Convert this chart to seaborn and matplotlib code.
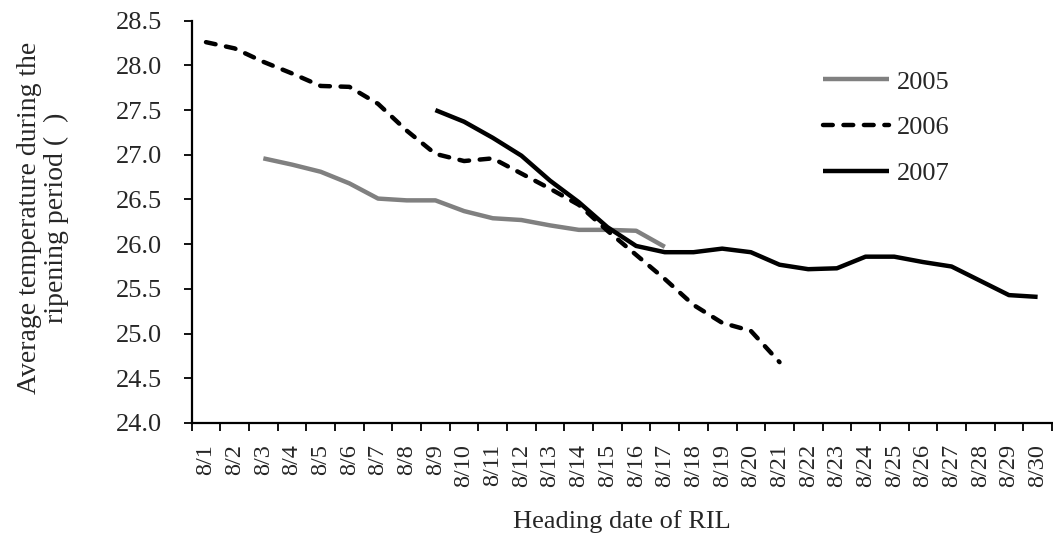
import numpy as np
import pandas as pd
import matplotlib
matplotlib.use("Agg")
import matplotlib.pyplot as plt
import seaborn as sns

# Heading dates (August 1-30)
dates = [f"8/{d}" for d in range(1, 31)]

# Average temperature during ripening, by heading date
temp_2005 = [None, None, 26.96, 26.89, 26.81, 26.68, 26.51, 26.49, 26.49, 26.37,
             26.29, 26.27, 26.21, 26.16, 26.16, 26.15, 25.97] + [None] * 13
temp_2006 = [28.26, 28.19, 28.04, 27.91, 27.77, 27.76, 27.57, 27.27, 27.01, 26.93,
             26.96, 26.79, 26.62, 26.44, 26.15, 25.88, 25.61, 25.32, 25.12, 25.03,
             24.68] + [None] * 9
temp_2007 = [None] * 8 + [27.50, 27.37, 27.19, 26.99, 26.71, 26.47, 26.19, 25.98,
                          25.91, 25.91, 25.95, 25.91, 25.77, 25.72, 25.73, 25.86,
                          25.86, 25.80, 25.75, 25.59, 25.43, 25.41]

years = ["2005", "2006", "2007"]
series = {"2005": temp_2005, "2006": temp_2006, "2007": temp_2007}

rows = []
for yr in years:
    for i, v in enumerate(series[yr]):
        if v is not None:
            rows.append({"pos": i, "date": dates[i], "temp": v, "year": yr})
df = pd.DataFrame(rows)

sns.set_style("white")
plt.rcParams["font.family"] = ["Liberation Serif", "DejaVu Serif"]

fig = plt.figure(figsize=(10.53, 5.45), dpi=100)
ax = fig.add_axes([0.182, 0.224, 0.817, 0.738])

styles = {
    "2005": dict(color="#808080", linestyle="-"),
    "2006": dict(color="black", linestyle=(0, (2.2, 2.4))),
    "2007": dict(color="black", linestyle="-"),
}
for yr in years:
    sub = df[df["year"] == yr]
    sns.lineplot(data=sub, x="pos", y="temp", ax=ax, label=yr, lw=3.2,
                 color=styles[yr]["color"], linestyle=styles[yr]["linestyle"],
                 dash_capstyle="round", solid_capstyle="butt")

ax.set_xlim(-0.5, 29.5)
ax.set_ylim(24.0, 28.5)
yt = np.arange(24.0, 28.51, 0.5)
ax.set_yticks(yt)
ax.set_yticklabels([f"{v:.1f}" for v in yt], fontsize=19)
ax.set_xticks(range(30))
ax.set_xticklabels(dates, rotation=90, fontsize=17.5)
ax.set_xticks(np.arange(-0.5, 30.0, 1.0), minor=True)
ax.tick_params(axis="x", which="major", bottom=True, length=0, pad=15)
ax.tick_params(axis="x", which="minor", bottom=True, length=6, width=1.3,
               color="black", direction="out")
ax.tick_params(axis="y", left=True, length=6, width=1.3, color="black",
               direction="out", pad=15)

for side in ["top", "right"]:
    ax.spines[side].set_visible(False)
for side in ["left", "bottom"]:
    ax.spines[side].set_color("black")
    ax.spines[side].set_linewidth(1.6)

ax.set_xlabel("Heading date of RIL", fontsize=19)
ax.xaxis.label.set_va("center")
ax.xaxis.set_label_coords(0.5, -0.246)
ax.set_ylabel("Average temperature during the\nripening period (  )", fontsize=20,
              linespacing=1.08)
ax.yaxis.label.set_va("center")
ax.yaxis.set_label_coords(-0.1727, 0.51)

ax.legend(loc="upper left", bbox_to_anchor=(0.759, 0.915), bbox_transform=fig.transFigure,
          frameon=False, fontsize=19, handlelength=2.5, handletextpad=0.3,
          labelspacing=0.85)

fig.savefig("out.png", dpi=100)
